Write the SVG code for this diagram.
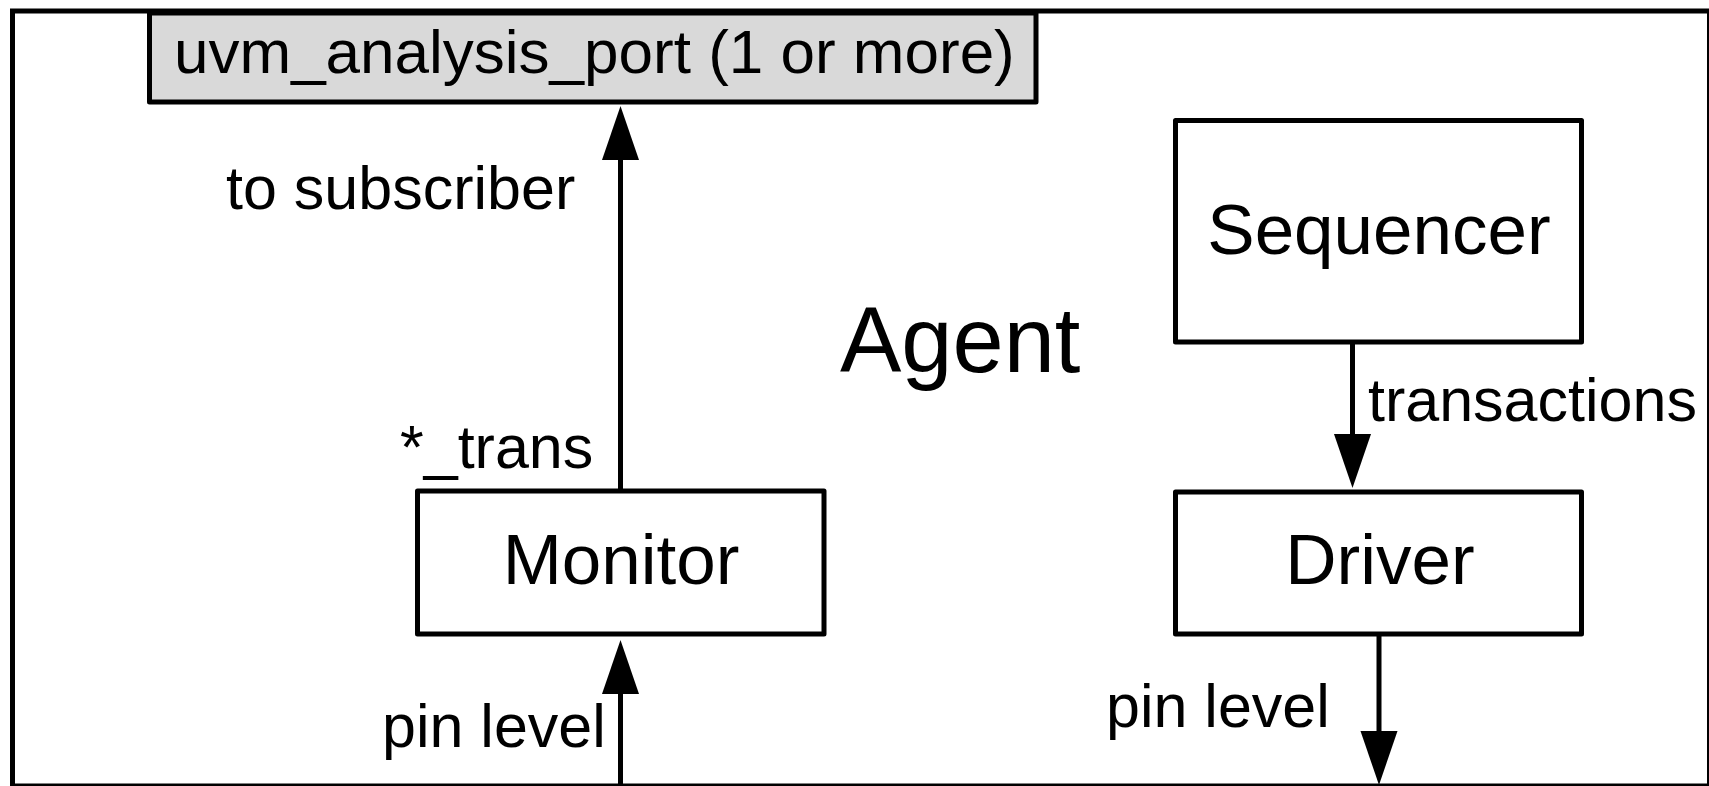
<svg xmlns="http://www.w3.org/2000/svg" width="1709" height="786" viewBox="0 0 1709 786">
<style>
  .box { fill: #ffffff; stroke: #000000; stroke-width: 5; stroke-linejoin: round; }
  .port { fill: #d9d9d9; stroke: #000000; stroke-width: 5; stroke-linejoin: round; }
  .frame { fill: #ffffff; stroke: #000000; stroke-width: 5; }
  .edge { stroke: #000000; stroke-width: 5; fill: none; }
  text { font-family: "Liberation Sans", Arial, sans-serif; fill: #000000; }
  .lbl { font-size: 61px; }
  .name { font-size: 71px; text-anchor: middle; }
</style>
<defs>
  <marker id="arrow" markerUnits="userSpaceOnUse" markerWidth="54" markerHeight="37" refX="0" refY="18.5" orient="auto" overflow="visible">
    <path d="M0,0 L54,18.5 L0,37 Z" fill="#000000"/>
  </marker>
</defs>
<g id="agent">
  <rect class="frame" x="12.5" y="11" width="1697" height="775"/>
  <text x="840" y="372" style="font-size:92px">Agent</text>
</g>
<g id="analysis_port">
  <rect class="port" x="149.5" y="13" width="886.5" height="89"/>
  <text x="174" y="73" style="font-size:62px">uvm_analysis_port (1 or more)</text>
</g>
<g id="sequencer">
  <rect class="box" x="1175.5" y="120.5" width="406" height="221.5"/>
  <text class="name" x="1379" y="254">Sequencer</text>
</g>
<g id="monitor">
  <rect class="box" x="417.5" y="491" width="406.5" height="143"/>
  <text class="name" x="621" y="584">Monitor</text>
</g>
<g id="driver">
  <rect class="box" x="1175.5" y="492" width="406" height="142"/>
  <text class="name" x="1380" y="584">Driver</text>
</g>
<g id="connectors">
  <line class="edge" x1="620.5" y1="491" x2="620.5" y2="160" marker-end="url(#arrow)"/>
  <line class="edge" x1="620.5" y1="786" x2="620.5" y2="694" marker-end="url(#arrow)"/>
  <line class="edge" x1="1352.5" y1="342" x2="1352.5" y2="434" marker-end="url(#arrow)"/>
  <line class="edge" x1="1379" y1="634" x2="1379" y2="731" marker-end="url(#arrow)"/>
  <text class="lbl" x="226" y="209">to subscriber</text>
  <text class="lbl" x="400" y="468">*_trans</text>
  <text class="lbl" x="382" y="747">pin level</text>
  <text class="lbl" x="1368" y="421">transactions</text>
  <text class="lbl" x="1106" y="727">pin level</text>
</g>
</svg>
